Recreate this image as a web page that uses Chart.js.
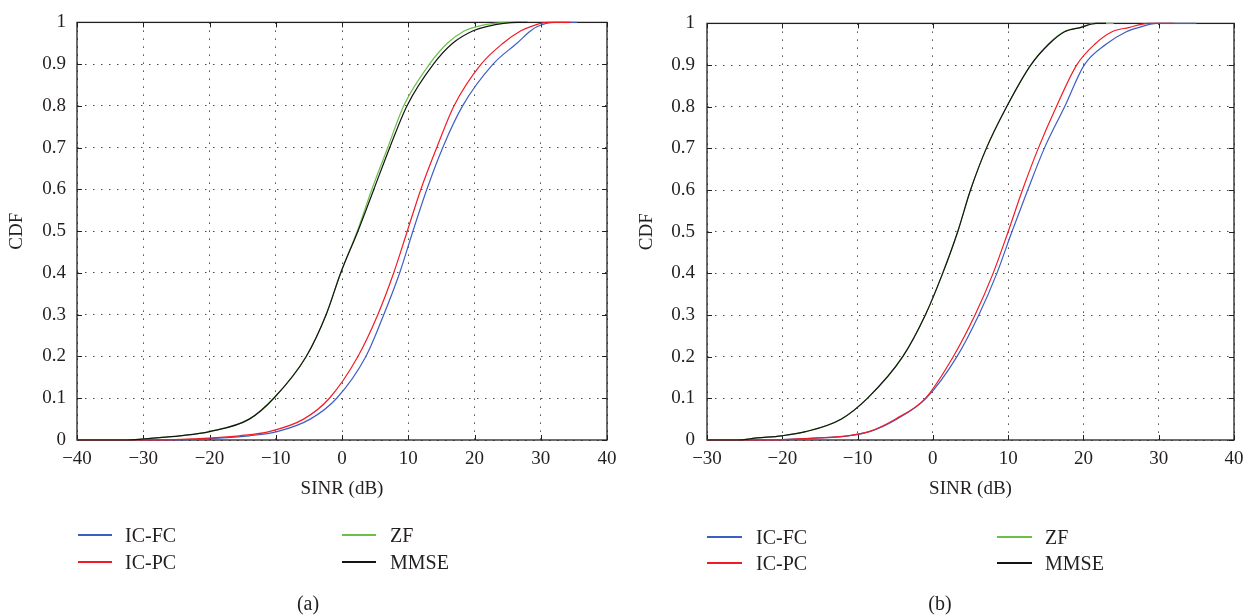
<!DOCTYPE html>
<html><head><meta charset="utf-8">
<script src="https://cdn.jsdelivr.net/npm/chart.js@4.4.1/dist/chart.umd.min.js"></script>
<style>
html,body{margin:0;padding:0;background:#fff;width:1254px;height:616px;overflow:hidden;}
#wrap{position:relative;width:1254px;height:616px;}
canvas{position:absolute;top:0;}
.leg{position:absolute;font-family:"Liberation Serif","DejaVu Serif",serif;font-size:20px;color:#231f20;white-space:nowrap;line-height:1;}
.sw{position:absolute;height:2px;}
</style></head>
<body><div id="wrap">
<canvas id="ca" width="627" height="616" style="left:0"></canvas>
<canvas id="cb" width="627" height="616" style="left:627px"></canvas>
</div>
<script>
// ---- data ----
const seriesNames = ['IC-FC', 'IC-PC', 'ZF', 'MMSE'];
const cdfLevels = [0, 0, 0.005, 0.01, 0.02, 0.05, 0.1, 0.2, 0.3, 0.4, 0.5, 0.6, 0.7, 0.8, 0.9, 0.95, 0.98, 0.99, 1, 1];

// Panel (a): SINR (dB) reached at each CDF level
const sinrIcfcA = [-40, -26, -18, -14, -9.8, -4.8, -0.8, 3.6, 6.3, 8.7, 10.7, 12.8, 15.2, 18.2, 22.8, 26.4, 28.5, 29.5, 32, 35.5];
const sinrIcpcA = [-40, -28, -19.5, -15.5, -11, -5.8, -1.9, 2.4, 5.4, 7.8, 9.85, 11.9, 14.3, 16.9, 21.0, 24.3, 27, 28.5, 31, 34.5];
const sinrZfA   = [-40, -32.5, -28, -24.5, -20, -14, -10.3, -5.4, -2.4, -0.2, 2.3, 4.5, 6.9, 9.3, 13.2, 15.9, 18.5, 20.3, 25.5, 27];
const sinrMmseA = [-40, -32.5, -28, -24.5, -20, -14, -10.3, -5.4, -2.4, -0.2, 2.4, 4.8, 7.2, 9.8, 13.8, 16.7, 19.8, 21.8, 26.5, 28];

// Panel (b)
const sinrIcfcB = [-30, -22, -15, -11.2, -8.4, -4.8, -0.9, 3.2, 6.1, 8.5, 10.5, 12.6, 14.8, 17.5, 20.1, 23.0, 25.7, 27.3, 29.7, 35];
const sinrIcpcB = [-30, -22.7, -15.3, -11.4, -8.5, -5.0, -1.0, 2.7, 5.6, 8.0, 10.0, 11.9, 14.0, 16.4, 19.1, 21.5, 23.8, 26.0, 28.6, 32];
const sinrZfB   = [-30, -26, -23.3, -20.1, -16.9, -12.2, -8.7, -4.0, -1.0, 1.3, 3.3, 5.0, 7.1, 9.8, 13.0, 15.3, 17.4, 19.5, 21.5, 24];
const sinrMmseB = [-30, -26, -23.3, -20.1, -16.9, -12.2, -8.7, -4.0, -1.0, 1.3, 3.3, 5.0, 7.1, 9.8, 13.0, 15.4, 17.5, 19.6, 21.7, 23];

const xTickLabelsA = ['\u221240', '\u221230', '\u221220', '\u221210', '0', '10', '20', '30', '40'];
const xTickLabelsB = ['\u221230', '\u221220', '\u221210', '0', '10', '20', '30', '40'];
const yTickLabels = ['0', '0.1', '0.2', '0.3', '0.4', '0.5', '0.6', '0.7', '0.8', '0.9', '1'];
const xTitle = 'SINR (dB)';
const yTitle = 'CDF';
const panelLabels = ['(a)', '(b)'];

// ---- styling ----
const colors = ['#3d5fc4', '#f01c24', '#6cbf4a', '#141414'];
const drawOrder = [3, 1, 2, 0];
const FONT = '"Liberation Serif", "DejaVu Serif", serif';
const INK = '#231f20';

const framePlugin = {
  id: 'frame',
  beforeDatasetsDraw(chart) {
    const { ctx, chartArea: a, scales: { x, y } } = chart;
    ctx.save();
    ctx.setLineDash([]);
    ctx.strokeStyle = INK;
    ctx.lineWidth = 1.3;
    ctx.strokeRect(a.left, a.top, a.right - a.left, a.bottom - a.top);
    ctx.lineWidth = 1;
    ctx.beginPath();
    x.ticks.forEach(t => {
      const px = Math.round(x.getPixelForValue(t.value)) + 0.5;
      ctx.moveTo(px, a.bottom); ctx.lineTo(px, a.bottom - 5);
      ctx.moveTo(px, a.top); ctx.lineTo(px, a.top + 5);
    });
    y.ticks.forEach(t => {
      const py = Math.round(y.getPixelForValue(t.value)) + 0.5;
      ctx.moveTo(a.left, py); ctx.lineTo(a.left + 5, py);
      ctx.moveTo(a.right, py); ctx.lineTo(a.right - 5, py);
    });
    ctx.stroke();
    ctx.restore();
  }
};

function makeChart(id, sx, xMin, xMax, xLabels, yAxisW, yTitlePad, yTickPad) {
  const datasets = seriesNames.map((name, i) => ({
    label: name,
    data: sx[i].map((v, k) => ({ x: v, y: cdfLevels[k] })),
    borderColor: colors[i],
    backgroundColor: colors[i],
    borderWidth: 1.2,
    pointRadius: 0,
    showLine: true,
    fill: false,
    cubicInterpolationMode: 'monotone',
    order: drawOrder[i],
    clip: false
  }));
  return new Chart(document.getElementById(id), {
    type: 'scatter',
    data: { datasets },
    options: {
      responsive: false,
      animation: false,
      devicePixelRatio: 1,
      layout: { padding: { top: 12, right: 20, left: 0, bottom: 116 } },
      plugins: { legend: { display: false }, tooltip: { enabled: false } },
      scales: {
        x: {
          type: 'linear', min: xMin, max: xMax,
          ticks: { stepSize: 10, padding: 8, color: INK, font: { family: FONT, size: 19 },
                   callback: (v, i) => xLabels[i] },
          grid: { color: '#4a4a4a', lineWidth: 1, drawTicks: false, tickLength: 0 },
          border: { display: false, dash: [1.5, 6.5] },
          title: { display: true, text: xTitle, color: INK, font: { family: FONT, size: 19 }, padding: { top: 0, bottom: 0 } },
          afterFit: s => { s.height = 60; }
        },
        y: {
          type: 'linear', min: 0, max: 1,
          ticks: { stepSize: 0.1, padding: yTickPad, color: INK, font: { family: FONT, size: 19 },
                   callback: (v, i) => yTickLabels[i] },
          grid: { color: '#4a4a4a', lineWidth: 1, drawTicks: false, tickLength: 0 },
          border: { display: false, dash: [1.5, 6.5] },
          title: { display: true, text: yTitle, color: INK, font: { family: FONT, size: 19 }, padding: { top: yTitlePad, bottom: 0 } },
          afterFit: s => { s.width = yAxisW; }
        }
      }
    },
    plugins: [framePlugin]
  });
}

const chartA = makeChart('ca', [sinrIcfcA, sinrIcpcA, sinrZfA, sinrMmseA], -40, 40, xTickLabelsA, 77, 6, 11);
const chartB = makeChart('cb', [sinrIcfcB, sinrIcpcB, sinrZfB, sinrMmseB], -30, 40, xTickLabelsB, 80, 9, 12);

// ---- legends (built from the datasets) ----
const wrap = document.getElementById('wrap');
function addLegend(chart, layout) {
  chart.data.datasets.forEach((ds, i) => {
    const L = layout.items[i];
    const sw = document.createElement('div');
    sw.className = 'sw';
    sw.style.left = L.sx + 'px';
    sw.style.width = layout.swW + 'px';
    sw.style.top = Math.round(L.y - 1) + 'px';
    sw.style.background = ds.borderColor;
    wrap.appendChild(sw);
    const t = document.createElement('div');
    t.className = 'leg';
    t.textContent = ds.label;
    t.style.left = L.tx + 'px';
    t.style.top = (L.y - 10) + 'px';
    wrap.appendChild(t);
  });
  const p = document.createElement('div');
  p.className = 'leg';
  p.textContent = layout.panel;
  p.style.left = (layout.px - 100) + 'px';
  p.style.width = '200px';
  p.style.textAlign = 'center';
  p.style.top = (layout.py - 10) + 'px';
  wrap.appendChild(p);
}
addLegend(chartA, { swW: 34, panel: panelLabels[0], px: 308, py: 603, items: [
  { sx: 78, tx: 125, y: 535 }, { sx: 78, tx: 125, y: 562 },
  { sx: 342, tx: 390, y: 535 }, { sx: 342, tx: 390, y: 562 } ] });
addLegend(chartB, { swW: 35, panel: panelLabels[1], px: 940, py: 603, items: [
  { sx: 707, tx: 756, y: 537 }, { sx: 707, tx: 756, y: 563 },
  { sx: 997, tx: 1045, y: 537 }, { sx: 997, tx: 1045, y: 563 } ] });
</script>
</body></html>
